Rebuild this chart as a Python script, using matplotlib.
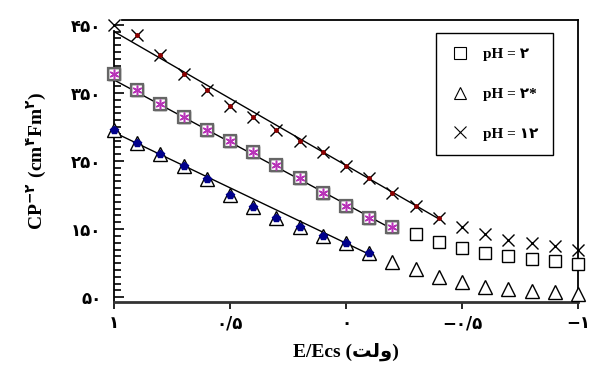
import numpy as np
import matplotlib
matplotlib.use("Agg")
import matplotlib.pyplot as plt
from matplotlib.lines import Line2D

volt = [1.0, 0.9, 0.8, 0.7, 0.6, 0.5, 0.4, 0.3, 0.2, 0.1, 0.0,
        -0.1, -0.2, -0.3, -0.4, -0.5, -0.6, -0.7, -0.8, -0.9, -1.0]
cp_ph2 = [378, 355, 333, 314, 296, 279, 263, 244, 225, 203, 184,
          167, 153, 143, 131, 122, 115, 110, 106, 103, 99]
cp_ph2s = [295, 277, 261, 242, 223, 200, 182, 166, 153, 140, 129,
           115, 101, 91, 80, 72, 65, 62, 59, 57, 55]
cp_ph12 = [450, 435, 405, 378, 355, 331, 314, 295, 279, 263, 242,
           225, 203, 184, 166, 153, 143, 134, 129, 125, 119]

# linear (Mott-Schottky) fits: end points
fit_x_ph2, fit_ph2 = [1.0, -0.2], [369, 150]
fit_x_ph2s, fit_ph2s = [1.0, -0.1], [292, 113]
fit_x_ph12, fit_ph12 = [1.0, -0.4], [440, 165]

# how many points (from the left) belong to each fit
n_fit_ph2 = 13
n_fit_ph2s = 12
fit_range_ph12 = (1, 15)

legend_labels = ["pH = ۲", "pH = ۲*", "pH = ۱۲"]
xticks = [1.0, 0.5, 0.0, -0.5, -1.0]
xtick_labels = ["۱", "۰/۵", "۰", "−۰/۵", "−۱"]
yticks = [50, 150, 250, 350, 450]
ytick_labels = ["۵۰", "۱۵۰", "۲۵۰", "۳۵۰", "۴۵۰"]

plt.rcParams["mathtext.fontset"] = "custom"
plt.rcParams["mathtext.rm"] = "Liberation Serif:bold"
plt.rcParams["mathtext.bf"] = "Liberation Serif:bold"
plt.rcParams["mathtext.sf"] = "DejaVu Sans:bold"
serif = ["Liberation Serif", "DejaVu Sans"]

fig = plt.figure(figsize=(5.91, 3.71), dpi=100)
ax = fig.add_axes([0.193, 0.186, 0.785, 0.76])

mk = dict(linestyle="none", clip_on=False, zorder=5)

# fit lines
ax.plot(fit_x_ph12, fit_ph12, color="black", lw=1, zorder=3)
ax.plot(fit_x_ph2, fit_ph2, color="black", lw=1, zorder=3)
ax.plot(fit_x_ph2s, fit_ph2s, color="black", lw=1, zorder=3)

# raw data
ax.plot(volt, cp_ph2, marker="s", ms=9, mfc="white", mec="black", mew=1, **mk)
ax.plot(volt, cp_ph2s, marker="^", ms=10, mfc="white", mec="black", mew=1, **mk)
ax.plot(volt, cp_ph12, marker="x", ms=9, mec="black", mew=1, **mk)

# points used in the fits
a, b = fit_range_ph12
ax.plot(volt[a:b], cp_ph12[a:b], marker="o", ms=2.5, mfc="#8b0000", mec="#8b0000", **mk)
ax.plot(volt[:n_fit_ph2], cp_ph2[:n_fit_ph2], marker="s", ms=9, mfc="none",
        mec="#666666", mew=1.6, **mk)
ax.plot(volt[:n_fit_ph2], cp_ph2[:n_fit_ph2], marker=(6, 2, 0), ms=7,
        mec="#b833b8", mew=1.1, **mk)
ax.plot(volt[:n_fit_ph2s], cp_ph2s[:n_fit_ph2s], marker="p", ms=6,
        mfc="#00008b", mec="#00008b", **mk)

ax.set_xlim(1.0, -1.0)
ax.set_ylim(43, 457)

ax.set_xticks(xticks)
ax.set_xticklabels(xtick_labels, fontsize=12, fontweight="bold", family="DejaVu Sans")
ax.set_yticks(yticks)
ax.set_yticklabels(ytick_labels, fontsize=12, fontweight="bold", family="DejaVu Sans")
ax.set_yticks(np.arange(50, 451, 10), minor=True)
ax.tick_params(axis="x", direction="out", length=5, width=1.2, pad=4)
ax.tick_params(axis="y", direction="in", length=7, width=1.2, pad=9)
ax.tick_params(axis="y", which="minor", direction="in", length=5, width=1.2)

for s in ax.spines.values():
    s.set_linewidth(1.3)
ax.spines["bottom"].set_color("#333333")
ax.spines["bottom"].set_linewidth(2)
ax.spines["left"].set_bounds(43, 441)
ax.spines["top"].set_bounds(0.965, -1.0)

ax.set_xlabel("E/Ecs (\uFE96\uFEDF\uFEED)", family=serif, fontsize=14,
              fontweight="bold", labelpad=7)
ax.set_ylabel(r"$\mathrm{CP}^{\mathsf{-۲}}\ (\mathrm{cm}^{\mathsf{۴}}\mathrm{Fm}^{\mathsf{۲}})$",
              fontsize=14, labelpad=17)

handles = [
    Line2D([], [], marker="s", ms=8, mfc="white", mec="black", mew=0.8, ls="none"),
    Line2D([], [], marker="^", ms=9, mfc="white", mec="black", mew=0.8, ls="none"),
    Line2D([], [], marker="x", ms=8, mec="black", mew=0.8, ls="none"),
]
leg = ax.legend(handles, legend_labels, loc="upper left", bbox_to_anchor=(0.694, 0.954),
                prop={"family": serif, "weight": "bold", "size": 11},
                frameon=True, fancybox=False, framealpha=1, edgecolor="black",
                labelspacing=1.7, handlelength=1.2, handletextpad=0.9,
                borderpad=0.95, borderaxespad=0)
leg.get_frame().set_linewidth(1)

fig.savefig("out.png", dpi=100)
